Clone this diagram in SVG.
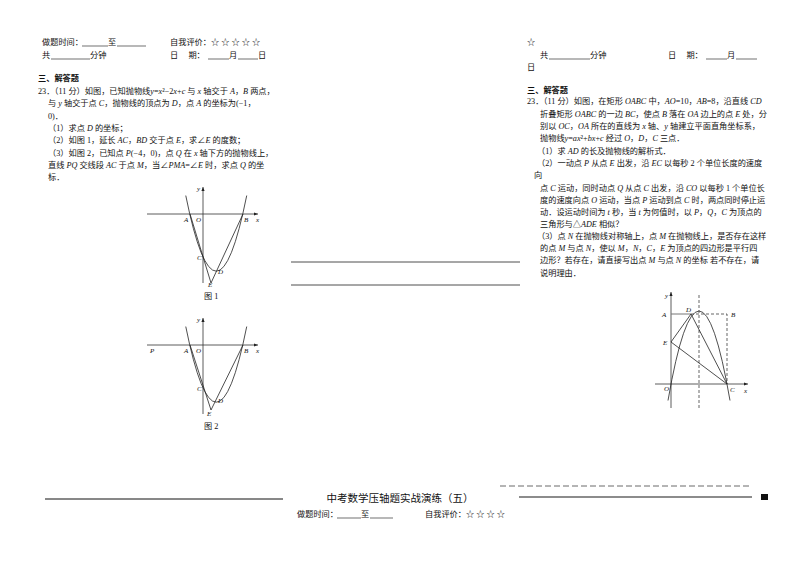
<svg xmlns="http://www.w3.org/2000/svg" width="794" height="562" viewBox="0 0 794 562">
<style>
text{font-family:"Liberation Serif","Noto Sans CJK SC",serif;font-size:8.2px;fill:#111}
.b{font-weight:bold}
.i{font-style:italic}
.l{font-size:7px;font-style:italic}
.ax{stroke:#333;stroke-width:0.8;fill:none}
.cv{stroke:#222;stroke-width:0.8;fill:none}
.d{stroke:#222;stroke-width:0.7;fill:none;stroke-dasharray:3,2}
.u{stroke:#111;stroke-width:0.6}
</style>
<defs><marker id="ar" markerWidth="6" markerHeight="6" refX="5" refY="3" orient="auto"><path d="M0,1 L5,3 L0,5 Z" fill="#222"/></marker></defs>
<rect width="794" height="562" fill="#fff"/>
<g id="left-text">
<text x="42" y="45">做题时间：</text><line class="u" x1="82" y1="46" x2="108" y2="46"/><text x="108" y="45">至</text><line class="u" x1="117" y1="46" x2="146" y2="46"/>
<text x="170" y="45">自我评价：☆ ☆ ☆ ☆ ☆</text>
<text x="42" y="58">共</text><line class="u" x1="51" y1="59" x2="90" y2="59"/><text x="90" y="58">分钟</text>
<text x="170" y="58">日　 期：</text><line class="u" x1="208" y1="59" x2="229" y2="59"/><text x="229" y="58">月</text><line class="u" x1="238" y1="59" x2="258" y2="59"/><text x="258" y="58">日</text>
<text x="38" y="81" class="b">三、解答题</text>
<text x="38" y="94">23．（11 分）如图，已知抛物线<tspan class="i">y</tspan>=<tspan class="i">x</tspan>²−2<tspan class="i">x</tspan>+<tspan class="i">c</tspan> 与 <tspan class="i">x</tspan> 轴交于 <tspan class="i">A</tspan>，<tspan class="i">B</tspan> 两点，</text>
<text x="48" y="106">与 <tspan class="i">y</tspan> 轴交于点 <tspan class="i">C</tspan>，抛物线的顶点为 <tspan class="i">D</tspan>，点 <tspan class="i">A</tspan> 的坐标为(−1，</text>
<text x="48" y="119">0)．</text>
<text x="48" y="131">（1）求点 <tspan class="i">D</tspan> 的坐标；</text>
<text x="48" y="143">（2）如图 1，延长 <tspan class="i">AC</tspan>，<tspan class="i">BD</tspan> 交于点 <tspan class="i">E</tspan>，求∠<tspan class="i">E</tspan> 的度数；</text>
<text x="48" y="156">（3）如图 2，已知点 <tspan class="i">P</tspan>(−4，0)，点 <tspan class="i">Q</tspan> 在 <tspan class="i">x</tspan> 轴下方的抛物线上，</text>
<text x="48" y="168">直线 <tspan class="i">PQ</tspan> 交线段 <tspan class="i">AC</tspan> 于点 <tspan class="i">M</tspan>，当∠<tspan class="i">PMA</tspan>=∠<tspan class="i">E</tspan> 时，求点 <tspan class="i">Q</tspan> 的坐</text>
<text x="48" y="180">标．</text>
</g>
<g id="fig1">
<line class="ax" x1="147" y1="214" x2="258" y2="214" marker-end="url(#ar)"/>
<line class="ax" x1="203" y1="283" x2="203" y2="187" marker-end="url(#ar)"/>
<path class="cv" transform="translate(203,214) scale(13.25,-14.3)" vector-effect="non-scaling-stroke" d="M-1.3 1.29 Q1 -9.29 3.3 1.29"/>
<path class="cv" d="M190 214 L211 283 L243 214"/>
<text class="l" x="197" y="191">y</text><text class="l" x="256" y="222">x</text>
<text class="l" x="184" y="222">A</text><text class="l" x="196" y="222">O</text><text class="l" x="244" y="222">B</text>
<text class="l" x="197" y="260">C</text><text class="l" x="218" y="274">D</text><text class="l" x="208" y="287">E</text>
<text x="204" y="299">图 1</text>
</g>
<g id="fig2">
<line class="ax" x1="147" y1="345" x2="258" y2="345" marker-end="url(#ar)"/>
<line class="ax" x1="203" y1="414" x2="203" y2="318" marker-end="url(#ar)"/>
<path class="cv" transform="translate(203,345) scale(13.25,-14.3)" vector-effect="non-scaling-stroke" d="M-1.3 1.29 Q1 -9.29 3.3 1.29"/>
<path class="cv" d="M190 345 L211 410 L243 345"/>
<text class="l" x="197" y="322">y</text><text class="l" x="256" y="353">x</text>
<text class="l" x="150" y="353">P</text>
<text class="l" x="184" y="353">A</text><text class="l" x="196" y="353">O</text><text class="l" x="244" y="353">B</text>
<text class="l" x="197" y="391">C</text><text class="l" x="218" y="403">D</text><text class="l" x="207" y="416">E</text>
<text x="204" y="429">图 2</text>
</g>
<g id="middle">
<line x1="291" y1="262" x2="520" y2="262" stroke="#222" stroke-width="0.8"/>
<line x1="291" y1="285" x2="520" y2="285" stroke="#222" stroke-width="0.8"/>
</g>
<g id="right-text">
<text x="527" y="45">☆</text>
<text x="540" y="58">共</text><line class="u" x1="549" y1="59" x2="590" y2="59"/><text x="590" y="58">分钟</text>
<text x="668" y="58">日　 期：</text><line class="u" x1="706" y1="59" x2="727" y2="59"/><text x="727" y="58">月</text><line class="u" x1="736" y1="59" x2="757" y2="59"/>
<text x="527" y="70">日</text>
<text x="527" y="93" class="b">三、解答题</text>
<text x="527" y="104">23．（11 分）如图，在矩形 <tspan class="i">OABC</tspan> 中，<tspan class="i">AO</tspan>=10，<tspan class="i">AB</tspan>=8，沿直线 <tspan class="i">CD</tspan></text>
<text x="540" y="117">折叠矩形 <tspan class="i">OABC</tspan> 的一边 <tspan class="i">BC</tspan>，使点 <tspan class="i">B</tspan> 落在 <tspan class="i">OA</tspan> 边上的点 <tspan class="i">E</tspan> 处，分</text>
<text x="540" y="129">别以 <tspan class="i">OC</tspan>，<tspan class="i">OA</tspan> 所在的直线为 <tspan class="i">x</tspan> 轴、<tspan class="i">y</tspan> 轴建立平面直角坐标系，</text>
<text x="540" y="141">抛物线<tspan class="i">y</tspan>=<tspan class="i">ax</tspan>²+<tspan class="i">bx</tspan>+<tspan class="i">c</tspan> 经过 <tspan class="i">O</tspan>，<tspan class="i">D</tspan>，<tspan class="i">C</tspan> 三点．</text>
<text x="537" y="154">（1）求 <tspan class="i">AD</tspan> 的长及抛物线的解析式．</text>
<text x="537" y="166">（2）一动点 <tspan class="i">P</tspan> 从点 <tspan class="i">E</tspan> 出发，沿 <tspan class="i">EC</tspan> 以每秒 2 个单位长度的速度</text>
<text x="534" y="178">向</text>
<text x="540" y="191">点 <tspan class="i">C</tspan> 运动，同时动点 <tspan class="i">Q</tspan> 从点 <tspan class="i">C</tspan> 出发，沿 <tspan class="i">CO</tspan> 以每秒 1 个单位长</text>
<text x="540" y="203">度的速度向点 <tspan class="i">O</tspan> 运动，当点 <tspan class="i">P</tspan> 运动到点 <tspan class="i">C</tspan> 时，两点同时停止运</text>
<text x="540" y="215">动．设运动时间为 <tspan class="i">t</tspan> 秒，当 <tspan class="i">t</tspan> 为何值时，以 <tspan class="i">P</tspan>，<tspan class="i">Q</tspan>，<tspan class="i">C</tspan> 为顶点的</text>
<text x="540" y="227">三角形与△<tspan class="i">ADE</tspan> 相似？</text>
<text x="537" y="239">（3）点 <tspan class="i">N</tspan> 在抛物线对称轴上，点 <tspan class="i">M</tspan> 在抛物线上，是否存在这样</text>
<text x="540" y="251">的点 <tspan class="i">M</tspan> 与点 <tspan class="i">N</tspan>，使以 <tspan class="i">M</tspan>，<tspan class="i">N</tspan>，<tspan class="i">C</tspan>，<tspan class="i">E</tspan> 为顶点的四边形是平行四</text>
<text x="540" y="263">边形？若存在，请直接写出点 <tspan class="i">M</tspan> 与点 <tspan class="i">N</tspan> 的坐标 若不存在，请</text>
<text x="540" y="276">说明理由．</text>
</g>
<g id="fig3">
<line class="ax" x1="655" y1="384" x2="748" y2="384" marker-end="url(#ar)"/>
<line class="ax" x1="671" y1="408" x2="671" y2="292" marker-end="url(#ar)"/>
<line x1="671" y1="314" x2="691" y2="314" stroke="#777" stroke-width="1"/>
<path class="d" d="M691 314 L727 314 L727 384"/>
<line class="d" x1="699" y1="295" x2="699" y2="408"/>
<path class="cv" d="M668 400.5 Q699 221.5 730 400.5"/>
<path class="cv" d="M691 314 L671 342 L727 384 Z"/>
<text class="l" x="665" y="298">y</text><text class="l" x="662" y="317">A</text><text class="l" x="686" y="312">D</text>
<text class="l" x="731" y="317">B</text><text class="l" x="663" y="345">E</text><text class="l" x="664" y="391">O</text>
<text class="l" x="730" y="392">C</text><text class="l" x="744" y="393">x</text>
</g>
<g id="footer">
<line x1="500" y1="486" x2="750" y2="486" stroke="#444" stroke-width="0.8" stroke-dasharray="6,3"/>
<line x1="45" y1="499" x2="283" y2="499" stroke="#111" stroke-width="1"/>
<line x1="519" y1="497" x2="752" y2="497" stroke="#666" stroke-width="1.6"/>
<rect x="761" y="494" width="7" height="6" fill="#111"/>
<text x="400" y="502" text-anchor="middle" style="font-size:10.5px">中考数学压轴题实战演练（五）</text>
<text x="297" y="517">做题时间：</text><line class="u" x1="337" y1="518" x2="361" y2="518"/><text x="361" y="517">至</text><line class="u" x1="370" y1="518" x2="393" y2="518"/>
<text x="425" y="517">自我评价：☆ ☆ ☆ ☆</text>
</g>
</svg>
